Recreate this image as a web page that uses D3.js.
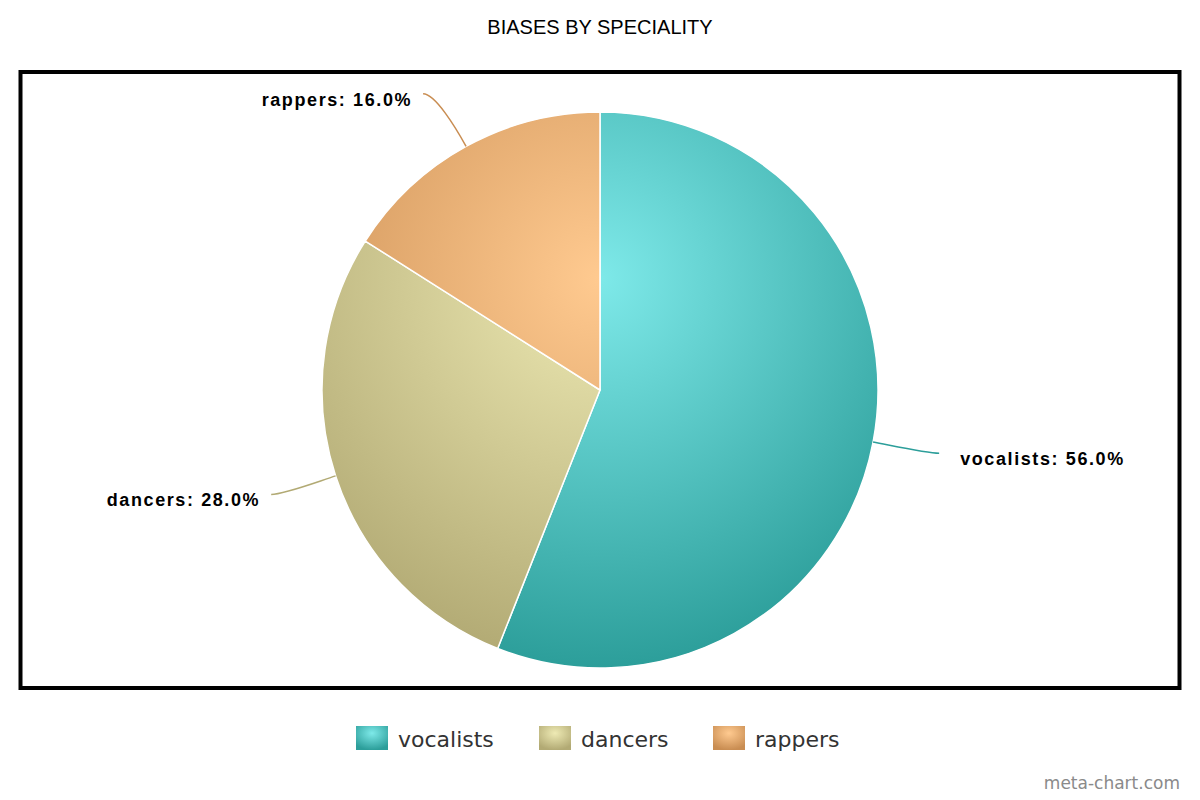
<!DOCTYPE html>
<html lang="en">
<head>
    <meta charset="UTF-8">
    <title>Biases by speciality</title>
    <script src="https://d3js.org/d3.v7.min.js"></script>
    <style>
        body {
            margin: 0;
            background-color: #ffffff;
        }

        .title {
            font-family: "Liberation Sans", Arial, sans-serif;
            font-size: 20px;
            fill: #000;
        }

        .slice-label {
            font-family: "Liberation Sans", Arial, sans-serif;
            font-size: 18px;
            font-weight: bold;
            letter-spacing: 1.6px;
            fill: #000;
        }

        .legend-label {
            font-family: "DejaVu Sans", sans-serif;
            font-size: 22px;
            fill: #333;
        }

        .credit {
            font-family: "DejaVu Sans", sans-serif;
            font-size: 17px;
            fill: #8a8a8a;
        }
    </style>
</head>
<body>
    <div id="chart"></div>

    <script>
        // data
        const categories = ['vocalists', 'dancers', 'rappers'];
        const shares = [56.0, 28.0, 16.0];
        const lightColors = ['#7ee9e9', '#eeeab4', '#ffca90'];
        const darkColors = ['#2c9e9a', '#b2aa74', '#c98d52'];

        const width = 1200;
        const height = 800;
        const cx = 600;
        const cy = 390;
        const radius = 278;

        const svg = d3.select('#chart').append('svg')
            .attr('width', width)
            .attr('height', height);

        const defs = svg.append('defs');

        // one radial gradient per slice, anchored on the whole pie
        // (coordinates are in the pie group's space, centre = 0,0)
        categories.forEach((c, i) => {
            const g = defs.append('radialGradient')
                .attr('id', `grad-${i}`)
                .attr('gradientUnits', 'userSpaceOnUse')
                .attr('cx', 0)
                .attr('cy', -radius + 0.3 * radius * 2)
                .attr('r', 0.7 * radius * 2);
            g.append('stop').attr('offset', 0).attr('stop-color', lightColors[i]);
            g.append('stop').attr('offset', 1).attr('stop-color', darkColors[i]);

            const lg = defs.append('radialGradient')
                .attr('id', `legend-grad-${i}`)
                .attr('cx', 0.5).attr('cy', 0.3).attr('r', 0.7);
            lg.append('stop').attr('offset', 0).attr('stop-color', lightColors[i]);
            lg.append('stop').attr('offset', 1).attr('stop-color', darkColors[i]);
        });

        svg.append('text')
            .attr('class', 'title')
            .attr('x', width / 2)
            .attr('y', 34)
            .attr('text-anchor', 'middle')
            .text('BIASES BY SPECIALITY');

        svg.append('rect')
            .attr('x', 20.5)
            .attr('y', 72)
            .attr('width', 1159)
            .attr('height', 616)
            .attr('fill', 'none')
            .attr('stroke', '#000')
            .attr('stroke-width', 4);

        const pie = d3.pie().sort(null).value(d => d);
        const arcs = pie(shares);
        const arc = d3.arc().innerRadius(0).outerRadius(radius);

        const g = svg.append('g').attr('transform', `translate(${cx},${cy})`);

        g.selectAll('path.slice')
            .data(arcs)
            .join('path')
            .attr('class', 'slice')
            .attr('d', arc)
            .attr('fill', (d, i) => `url(#grad-${i})`)
            .attr('stroke', '#fff')
            .attr('stroke-width', 1.5)
            .attr('stroke-linejoin', 'round');

        // labels + soft connectors
        const yRadius = 338;
        const xRadius = 345;

        arcs.forEach((d, i) => {
            const a = (d.startAngle + d.endAngle) / 2;
            const sx = Math.sin(a);
            const sy = -Math.cos(a);
            const side = sx >= 0 ? 1 : -1;

            const ex = radius * sx;
            const ey = radius * sy;
            const ay = yRadius * sy;
            const ax = side * Math.sqrt(xRadius * xRadius - ay * ay);

            const p = d3.path();
            p.moveTo(ex, ey);
            p.bezierCurveTo(ex + sx * 22, ey + sy * 22, ax - side * 12, ay, ax, ay);

            g.append('path')
                .attr('d', p.toString())
                .attr('fill', 'none')
                .attr('stroke', darkColors[i])
                .attr('stroke-width', 1.5);

            g.append('text')
                .attr('class', 'slice-label')
                .attr('x', ax + side * (side > 0 ? 21 : 11))
                .attr('y', ay + 12)
                .attr('text-anchor', side > 0 ? 'start' : 'end')
                .text(`${categories[i]}: ${shares[i].toFixed(1)}%`);
        });

        // legend
        const legendX = [356, 539, 713];
        const legend = svg.append('g');
        categories.forEach((c, i) => {
            legend.append('rect')
                .attr('x', legendX[i])
                .attr('y', 726)
                .attr('width', 32)
                .attr('height', 24)
                .attr('fill', `url(#legend-grad-${i})`);
            legend.append('text')
                .attr('class', 'legend-label')
                .attr('x', legendX[i] + 42)
                .attr('y', 747)
                .text(c);
        });

        svg.append('text')
            .attr('class', 'credit')
            .attr('x', 1180)
            .attr('y', 789)
            .attr('text-anchor', 'end')
            .text('meta-chart.com');
    </script>
</body>
</html>
